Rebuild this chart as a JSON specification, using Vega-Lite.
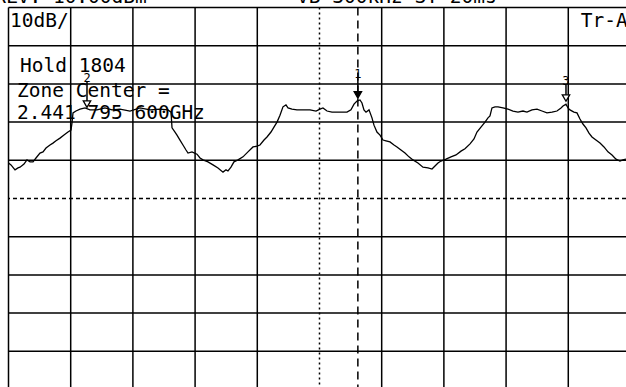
{
  "$schema": "https://vega.github.io/schema/vega-lite/v6.json",
  "width": 617.5,
  "height": 379.5,
  "autosize": "none",
  "padding": {"left": 8.5, "top": 7.5, "right": 0, "bottom": 0},
  "background": "white",
  "config": {"view": {"stroke": null}},
  "datasets": {
    "trace": [
      {"f":0.0,"a":-30.7},{"f":0.04,"a":-31.2},{"f":0.105,"a":-32.5},{"f":0.153,"a":-32.0},{"f":0.185,"a":-31.8},
      {"f":0.249,"a":-31.0},{"f":0.297,"a":-29.9},{"f":0.346,"a":-30.4},{"f":0.394,"a":-30.4},{"f":0.442,"a":-29.4},
      {"f":0.506,"a":-28.1},{"f":0.555,"a":-27.8},{"f":0.603,"a":-26.8},{"f":0.667,"a":-26.0},{"f":0.715,"a":-25.5},
      {"f":0.764,"a":-24.9},{"f":0.828,"a":-24.2},{"f":0.892,"a":-23.4},{"f":0.956,"a":-22.6},{"f":1.005,"a":-22.1},
      {"f":1.021,"a":-20.2},{"f":1.037,"a":-17.6},{"f":1.085,"a":-17.1},{"f":1.15,"a":-16.6},{"f":1.23,"a":-16.3},
      {"f":1.31,"a":-16.8},{"f":1.423,"a":-16.8},{"f":1.551,"a":-16.3},{"f":1.664,"a":-16.8},{"f":1.793,"a":-16.6},
      {"f":1.953,"a":-17.1},{"f":2.114,"a":-16.3},{"f":2.275,"a":-16.8},{"f":2.436,"a":-16.6},{"f":2.564,"a":-16.8},
      {"f":2.613,"a":-17.4},{"f":2.629,"a":-21.5},{"f":2.677,"a":-22.6},{"f":2.709,"a":-23.4},{"f":2.757,"a":-24.7},
      {"f":2.805,"a":-26.0},{"f":2.854,"a":-27.3},{"f":2.886,"a":-28.1},{"f":2.95,"a":-27.8},{"f":3.031,"a":-28.4},
      {"f":3.079,"a":-29.4},{"f":3.127,"a":-29.9},{"f":3.207,"a":-30.4},{"f":3.288,"a":-31.2},{"f":3.368,"a":-32.0},
      {"f":3.449,"a":-33.1},{"f":3.497,"a":-32.5},{"f":3.529,"a":-32.8},{"f":3.577,"a":-31.8},{"f":3.625,"a":-30.4},
      {"f":3.69,"a":-29.9},{"f":3.77,"a":-29.1},{"f":3.85,"a":-27.8},{"f":3.931,"a":-26.5},{"f":3.995,"a":-26.3},
      {"f":4.043,"a":-26.0},{"f":4.108,"a":-24.7},{"f":4.156,"a":-23.9},{"f":4.22,"a":-22.6},{"f":4.268,"a":-21.3},
      {"f":4.317,"a":-20.0},{"f":4.365,"a":-18.2},{"f":4.413,"a":-16.0},{"f":4.461,"a":-15.5},{"f":4.494,"a":-16.3},
      {"f":4.558,"a":-16.6},{"f":4.638,"a":-16.8},{"f":4.735,"a":-16.8},{"f":4.847,"a":-16.8},{"f":4.944,"a":-17.1},
      {"f":5.008,"a":-16.6},{"f":5.056,"a":-16.3},{"f":5.121,"a":-17.1},{"f":5.201,"a":-17.4},{"f":5.33,"a":-17.4},
      {"f":5.442,"a":-17.4},{"f":5.506,"a":-16.8},{"f":5.555,"a":-15.3},{"f":5.603,"a":-14.5},{"f":5.651,"a":-14.2},
      {"f":5.683,"a":-15.0},{"f":5.715,"a":-16.8},{"f":5.748,"a":-17.4},{"f":5.796,"a":-16.8},{"f":5.844,"a":-18.9},
      {"f":5.876,"a":-20.8},{"f":5.924,"a":-22.6},{"f":5.973,"a":-23.4},{"f":6.021,"a":-24.7},{"f":6.069,"a":-24.9},
      {"f":6.133,"a":-25.2},{"f":6.198,"a":-26.0},{"f":6.246,"a":-26.5},{"f":6.31,"a":-27.3},{"f":6.375,"a":-28.1},
      {"f":6.439,"a":-29.1},{"f":6.503,"a":-29.9},{"f":6.583,"a":-30.7},{"f":6.664,"a":-31.8},{"f":6.744,"a":-32.0},
      {"f":6.809,"a":-32.3},{"f":6.857,"a":-31.5},{"f":6.905,"a":-30.7},{"f":6.953,"a":-30.2},{"f":7.034,"a":-29.7},
      {"f":7.114,"a":-29.1},{"f":7.195,"a":-28.6},{"f":7.275,"a":-27.6},{"f":7.339,"a":-27.0},{"f":7.42,"a":-25.7},
      {"f":7.484,"a":-24.4},{"f":7.532,"a":-22.6},{"f":7.596,"a":-21.3},{"f":7.661,"a":-20.0},{"f":7.709,"a":-18.9},
      {"f":7.741,"a":-18.4},{"f":7.773,"a":-16.3},{"f":7.822,"a":-16.0},{"f":7.87,"a":-16.0},{"f":7.95,"a":-16.3},
      {"f":8.031,"a":-16.6},{"f":8.111,"a":-17.1},{"f":8.191,"a":-17.4},{"f":8.272,"a":-17.1},{"f":8.336,"a":-17.4},
      {"f":8.416,"a":-16.8},{"f":8.497,"a":-16.6},{"f":8.577,"a":-17.1},{"f":8.657,"a":-17.6},{"f":8.738,"a":-17.4},
      {"f":8.818,"a":-17.1},{"f":8.883,"a":-16.3},{"f":8.915,"a":-15.8},{"f":8.963,"a":-15.3},{"f":8.995,"a":-16.3},
      {"f":9.027,"a":-16.8},{"f":9.091,"a":-17.4},{"f":9.14,"a":-17.6},{"f":9.188,"a":-19.2},{"f":9.236,"a":-20.5},
      {"f":9.285,"a":-21.5},{"f":9.333,"a":-22.9},{"f":9.381,"a":-23.9},{"f":9.445,"a":-24.7},{"f":9.51,"a":-25.5},
      {"f":9.574,"a":-26.5},{"f":9.638,"a":-27.8},{"f":9.703,"a":-28.6},{"f":9.767,"a":-29.7},{"f":9.831,"a":-30.2},
      {"f":9.879,"a":-29.9},{"f":9.928,"a":-29.7}
    ],
    "vgrid": [{"f":0},{"f":1},{"f":2},{"f":3},{"f":4},{"f":6},{"f":7},{"f":8},{"f":9}],
    "hgrid": [{"a":10},{"a":0},{"a":-10},{"a":-20},{"a":-30},{"a":-50},{"a":-60},{"a":-70},{"a":-80}],
    "labels": [
      {"f":0.024,"a":4.9,"t":"10dB/"},
      {"f":9.2,"a":4.9,"t":"Tr-A"},
      {"f":0.185,"a":-6.9,"t":"Hold 1804"},
      {"f":0.137,"a":-13.4,"t":"Zone Center ="},
      {"f":0.137,"a":-19.2,"t":"2.441 795 600GHz"},
      {"f":-0.23,"a":11.2,"t":"RLV: 10.00dBm"},
      {"f":4.64,"a":11.2,"t":"VB 300kHz ST 20ms"}
    ],
    "markers": [
      {"f":5.617,"a":-12.9,"lab":-8.5,"id":"1","active":true},
      {"f":1.262,"a":-15.3,"lab":-9.5,"id":"2","active":false},
      {"f":8.963,"a":-13.7,"lab":-10.3,"id":"3","active":false}
    ]
  },
  "layer": [
    {
      "data": {"name": "vgrid"},
      "mark": {"type": "rule", "color": "black", "strokeWidth": 1.5},
      "encoding": {"x": {"field": "f", "type": "quantitative", "scale": {"domain": [0, 9.928], "nice": false, "zero": false}, "axis": null}}
    },
    {
      "data": {"name": "hgrid"},
      "mark": {"type": "rule", "color": "black", "strokeWidth": 1.5},
      "encoding": {"y": {"field": "a", "type": "quantitative", "scale": {"domain": [-89.35, 10], "nice": false, "zero": false}, "axis": null}}
    },
    {
      "data": {"values": [{"f": 5}]},
      "mark": {"type": "rule", "color": "black", "strokeWidth": 1.5, "strokeDash": [2, 3]},
      "encoding": {"x": {"field": "f", "type": "quantitative", "axis": null}}
    },
    {
      "data": {"values": [{"a": -40}]},
      "mark": {"type": "rule", "color": "black", "strokeWidth": 1.5, "strokeDash": [4, 3]},
      "encoding": {"y": {"field": "a", "type": "quantitative", "axis": null}}
    },
    {
      "data": {"values": [{"f": 5.617}]},
      "mark": {"type": "rule", "color": "black", "strokeWidth": 1.5, "strokeDash": [8, 5]},
      "encoding": {"x": {"field": "f", "type": "quantitative", "axis": null}}
    },
    {
      "data": {"name": "trace"},
      "mark": {"type": "line", "color": "black", "strokeWidth": 1.3},
      "encoding": {
        "x": {"field": "f", "type": "quantitative", "axis": null},
        "y": {"field": "a", "type": "quantitative", "axis": null}
      }
    },
    {
      "data": {"name": "markers"},
      "mark": {"type": "rule", "color": "black", "strokeWidth": 1.5},
      "encoding": {
        "x": {"field": "f", "type": "quantitative", "axis": null},
        "y": {"field": "lab", "type": "quantitative", "axis": null},
        "y2": {"field": "a"}
      }
    },
    {
      "data": {"name": "markers"},
      "mark": {"type": "point", "shape": "triangle-down", "size": 55, "strokeWidth": 1.3, "opacity": 1},
      "encoding": {
        "x": {"field": "f", "type": "quantitative", "axis": null},
        "y": {"field": "a", "type": "quantitative", "axis": null},
        "color": {"value": "black"},
        "fill": {"condition": {"test": "datum.active", "value": "black"}, "value": "white"}
      }
    },
    {
      "data": {"name": "markers"},
      "mark": {"type": "text", "font": "DejaVu Sans Mono", "fontSize": 12, "align": "center", "baseline": "alphabetic", "color": "black"},
      "encoding": {
        "x": {"field": "f", "type": "quantitative", "axis": null},
        "y": {"field": "lab", "type": "quantitative", "axis": null},
        "text": {"field": "id"}
      }
    },
    {
      "data": {"name": "labels"},
      "mark": {"type": "text", "font": "DejaVu Sans Mono", "fontSize": 19.5, "align": "left", "baseline": "alphabetic", "color": "black"},
      "encoding": {
        "x": {"field": "f", "type": "quantitative", "axis": null},
        "y": {"field": "a", "type": "quantitative", "axis": null},
        "text": {"field": "t"}
      }
    }
  ]
}
